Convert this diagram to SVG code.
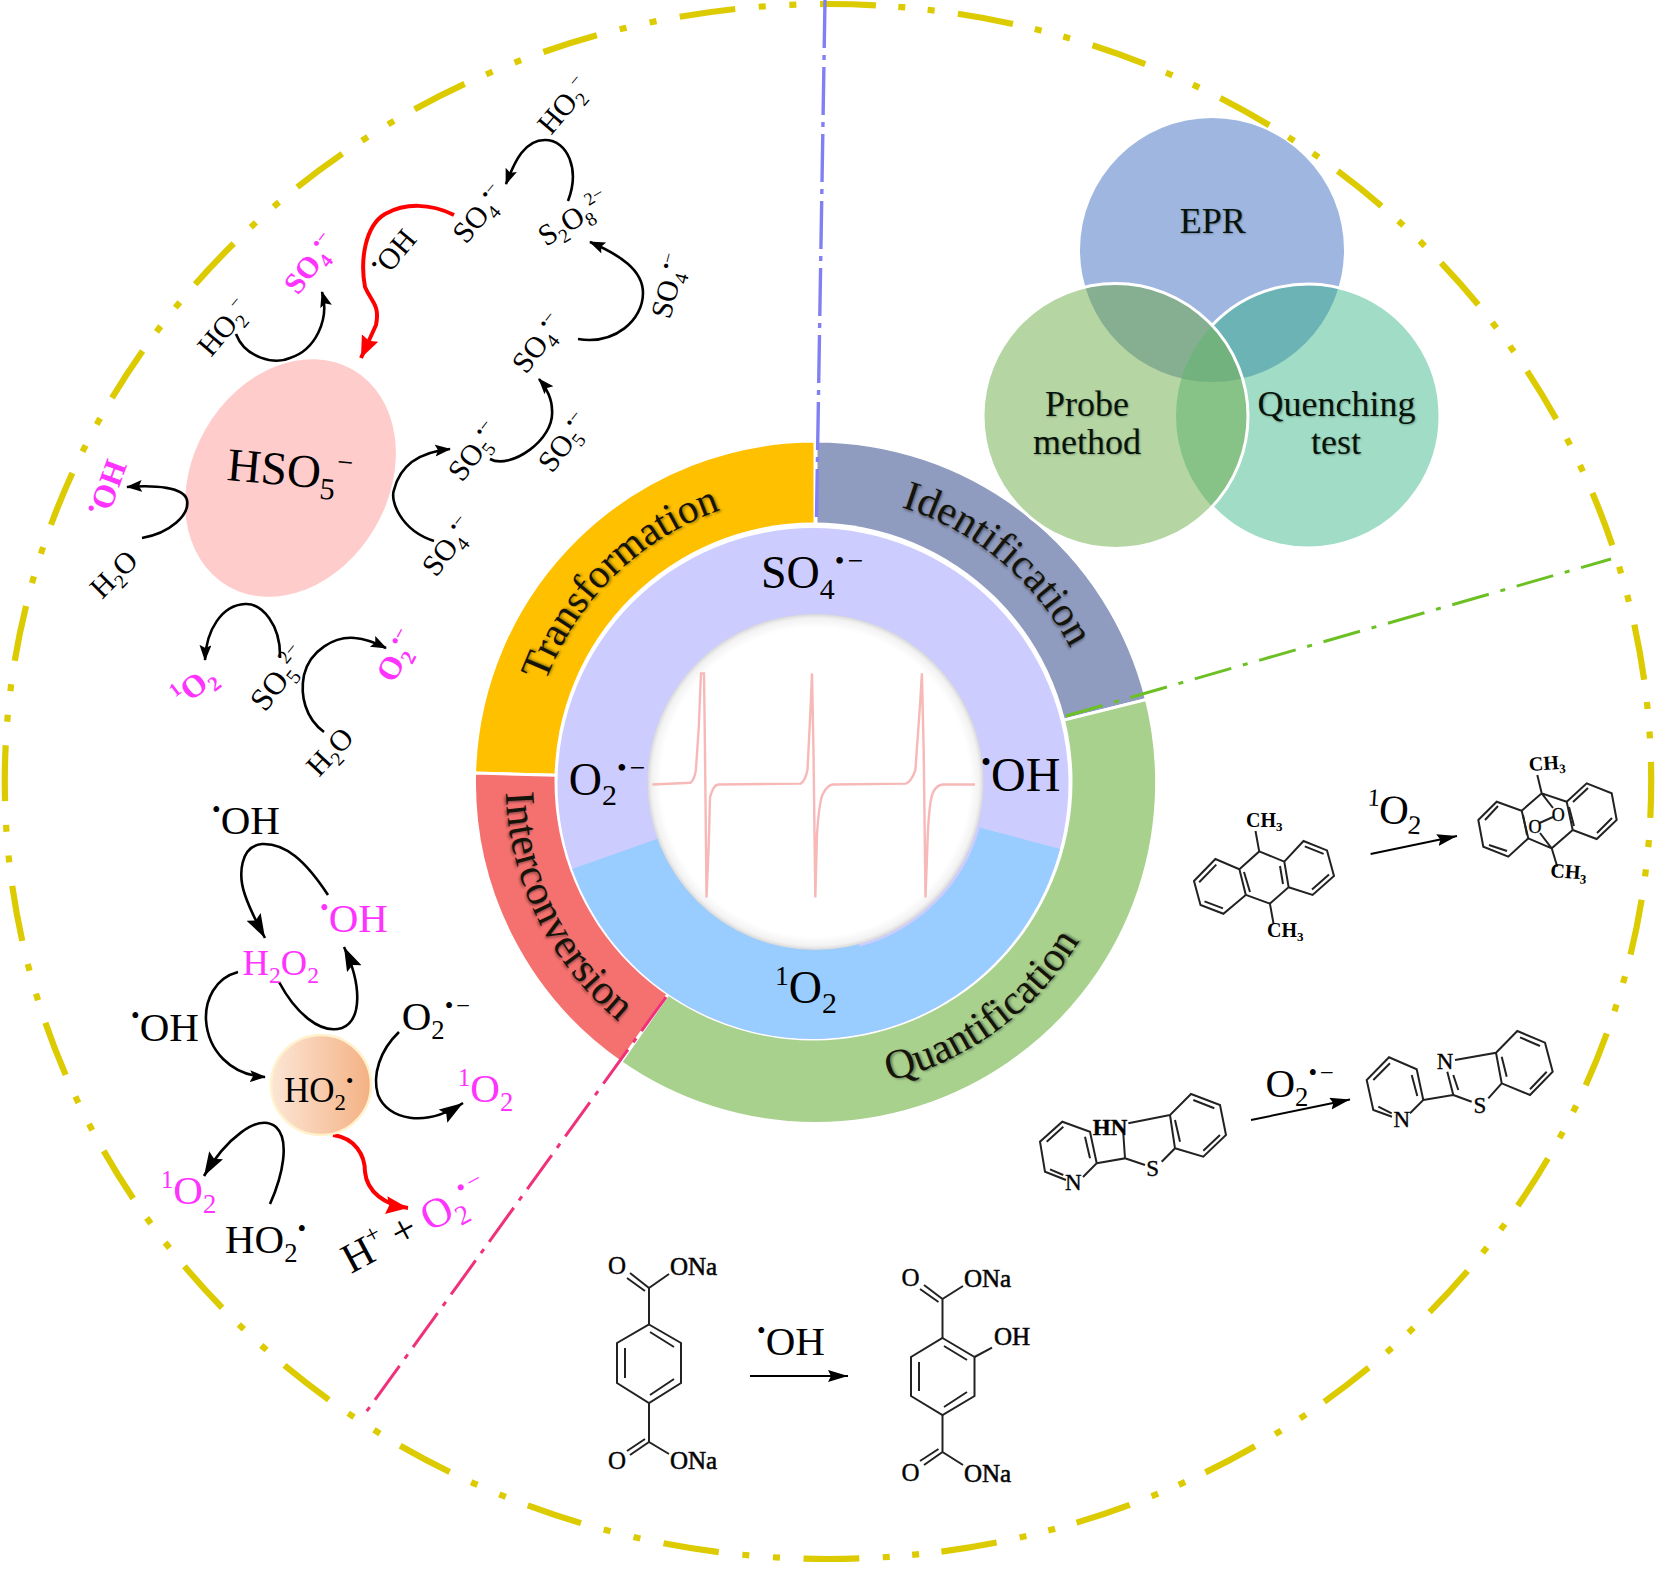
<svg xmlns="http://www.w3.org/2000/svg" width="1677" height="1592" viewBox="0 0 1677 1592">
<style>
text{font-family:"Liberation Serif","Times New Roman",serif;fill:#000}
.sb{font-size:.65em}
.sp{font-size:.6em}
.sl{font-size:.6em;letter-spacing:.12em}
.m{fill:#ff33ff}
.bd{font-weight:700}
.f28{font-size:30px}
.f32{font-size:32px}
.f34{font-size:35px}
.f36{font-size:36.5px}
.f40{font-size:41px}
.f46{font-size:46px}
.rt{font-size:42px;fill:#14140a;text-shadow:1.5px 1.5px 2.5px rgba(0,0,0,.4)}
.vt{font-size:36px;fill:#06140a;text-anchor:middle;text-shadow:1px 1px 2px rgba(0,0,0,.3)}
.c{fill:none;stroke:#000;stroke-width:2.6}
.t{fill:none;stroke:#000;stroke-width:2}
.r{fill:none;stroke:#f00;stroke-width:4}
.b{fill:none;stroke:#222;stroke-width:2}
.a{font-size:25px;stroke:#111;stroke-width:.4}
.n{font-size:23px;stroke:#111;stroke-width:.4}
.am{text-anchor:middle}
.ona{font-size:25px;stroke:#111;stroke-width:.6}
.ch{font-size:20px;font-weight:700}
.w{fill:none;stroke:#fff;stroke-width:3}
.sec{stroke:#fff;stroke-width:3}
.bnd{fill:none;stroke:#dccb00;stroke-width:6.2}
</style>
<defs>
<marker id="hs" markerUnits="userSpaceOnUse" markerWidth="18" markerHeight="14" refX="15" refY="6" orient="auto"><path d="M0,0 L16,6 L0,12 L3,6Z" fill="#000"/></marker>
<marker id="hm" markerUnits="userSpaceOnUse" markerWidth="22" markerHeight="14" refX="20" refY="6" orient="auto"><path d="M0,0 L20,6 L0,12 L3,6Z" fill="#000"/></marker>
<marker id="hl" markerUnits="userSpaceOnUse" markerWidth="26" markerHeight="18" refX="24" refY="8" orient="auto"><path d="M0,0 L24,8 L0,16 L4,8Z" fill="#000"/></marker>
<marker id="hr" markerUnits="userSpaceOnUse" markerWidth="24" markerHeight="20" refX="22" refY="9" orient="auto"><path d="M0,0 L22,9 L0,18 L3,9Z" fill="#f00"/></marker>
<linearGradient id="ho2" x1="0" x2="1" y1="0" y2="0"><stop offset="0" stop-color="#fce6d6"/><stop offset="1" stop-color="#f4b183"/></linearGradient>
<radialGradient id="hole"><stop offset=".92" stop-color="#fff"/><stop offset=".975" stop-color="#f2f2f2"/><stop offset="1" stop-color="#d8d8d8"/></radialGradient>
<path id="pT" d="M545.4,682.1 A288 288 0 0 1 765.5,498.4"/>
<path id="pI" d="M901.1,507 A288 288 0 0 1 1093.7,707.5"/>
<path id="pQ" d="M889.3,1081 A308 308 0 0 0 1119,835"/>
<path id="pC" d="M505.7,792.3 A310 310 0 0 0 709.5,1073.3"/>
<clipPath id="cE"><circle cx="1212" cy="250" r="132"/></clipPath>
<clipPath id="cP"><circle cx="1115.5" cy="416" r="132.5"/></clipPath>
<clipPath id="cQ"><circle cx="1308" cy="416" r="132"/></clipPath>
</defs>
<rect width="1677" height="1592" fill="#fff"/>

<g id="boundary">
<path class="bnd" d="M828,4 A823.5 777.5 0 0 1 828,1559" stroke-dasharray="56 22.4 7 22.5 7 23.5" stroke-dashoffset="8"/>
<path class="bnd" d="M828,4 A823.5 777.5 0 0 0 828,1559" stroke-dasharray="56 23.7 7 23.7 7 23.6" stroke-dashoffset="48"/>
</g>

<g id="ring-transformation">
<path class="sec" fill="#ffc000" d="M815,782 L815,441 A341 341 0 0 0 474.6,773Z"/>
<text class="rt" style="font-size:41px"><textPath href="#pT">Transformation</textPath></text>
</g>
<g id="ring-identification">
<path class="sec" fill="#8f9bbf" d="M816,782 L816,441 A341 341 0 0 1 1146.4,699.5Z"/>
<text class="rt"><textPath href="#pI">Identification</textPath></text>
</g>
<g id="ring-quantification">
<path class="sec" fill="#a9d18e" d="M815.5,782 L1146.4,699.5 A341 341 0 0 1 620.6,1062.2Z"/>
<text class="rt"><textPath href="#pQ">Quantification</textPath></text>
</g>
<g id="ring-interconversion">
<path class="sec" fill="#f4716f" d="M815.5,782 L474.6,773 A341 341 0 0 0 620.6,1062.2Z"/>
<text class="rt"><textPath href="#pC">Interconversion</textPath></text>
</g>

<g id="species-ring">
<circle cx="813.5" cy="781.5" r="259" fill="#fff"/>
<circle cx="813" cy="783.5" r="255.5" fill="#ccccff"/>
<path d="M813,783.5 L1060,849 A255.5 255.5 0 0 1 572.3,869Z" fill="#99ccff"/>
<path d="M978.4,827 A169 169 0 0 1 859.2,945.2" fill="none" stroke="#ccccff" stroke-width="3"/>
<circle cx="815.5" cy="782" r="168" fill="url(#hole)"/>
<path d="M652.3,784.5 L690.4,782.7 C694,780 695,776 695.9,769.8 L698.7,728.5 L701,673.4 L704,673.4 L705,751.4 L706.5,897.5 L708.8,843.3 L710,797.4 C712,790 714,785 718,784.5 L800.6,783.6 C804,782 806,777 807.5,769.8 L810.7,705.5 L812,673.4 L813.5,751.4 L815.3,897.5 L817,834 C819,805 821,796 823.6,792.8 C826,788 829,785 832.8,784.5 L906,783.6 C910,782 913,777 915.4,769.8 L920,705.5 L921.9,673.4 L923.7,751.4 L925.5,897.5 L927.8,834 C929,810 931,797 932.9,792.8 C935,788 938,785 943,784.5 L975,784.5" fill="none" stroke="#f7b8b8" stroke-width="2.4"/>
<text class="f46" x="761" y="588.4">SO<tspan class="sb" dy=".34em">4</tspan><tspan class="sl" dy="-1.03em">•−</tspan></text>
<text class="f46" x="568.7" y="795">O<tspan class="sb" dy=".34em">2</tspan><tspan class="sl" dy="-1.03em">•−</tspan></text>
<text class="f46" style="font-size:48px" x="981" y="791"><tspan class="sp" dy="-.67em">•</tspan><tspan dy=".4em">OH</tspan></text>
<text class="f46" x="775" y="1003"><tspan class="sp" dy="-.67em">1</tspan><tspan dy=".4em">O</tspan><tspan class="sb" dy=".34em">2</tspan></text>
</g>

<g id="venn">
<circle cx="1212" cy="250" r="132" fill="#9fb7e0"/>
<circle cx="1115.5" cy="416" r="132.5" fill="#b5d5a3"/>
<circle cx="1308" cy="416" r="132" fill="#a0dcc6"/>
<g clip-path="url(#cE)"><circle cx="1115.5" cy="416" r="132.5" fill="#85af90"/><circle cx="1308" cy="416" r="132" fill="#6bb3b5"/></g>
<g clip-path="url(#cP)"><circle cx="1308" cy="416" r="132" fill="#87c286"/></g>
<g clip-path="url(#cP)"><g clip-path="url(#cE)"><circle cx="1308" cy="416" r="132" fill="#72b27f"/></g></g>
<circle class="w" cx="1115.5" cy="416" r="132.5"/>
<path class="w" d="M1212,325.4 A132 132 0 0 1 1440,416 A132 132 0 0 1 1212,506.6"/>
<text class="vt" x="1212.7" y="233">EPR</text>
<text class="vt" x="1087" y="416">Probe</text>
<text class="vt" x="1087" y="454">method</text>
<text class="vt" x="1336.5" y="416">Quenching</text>
<text class="vt" x="1336" y="454">test</text>
</g>

<g id="dividers" fill="none">
<path d="M825,0 L816.5,517" stroke="#8080f4" stroke-width="3.4" stroke-dasharray="48 7 5 7"/>
<path d="M1066,716 L1611,559" stroke="#6cc024" stroke-width="3" stroke-dasharray="38 12 5 12"/>
<path d="M666,997 L364,1415" stroke="#f0307a" stroke-width="3" stroke-dasharray="42 9 5 9"/>
</g>

<g id="node-hso5">
<ellipse cx="0" cy="0" rx="98" ry="125" fill="#ffcccc" transform="translate(290.5,478) rotate(30)"/>
<text font-size="47" transform="translate(226,480) rotate(5)">HSO<tspan class="sb" dy=".34em">5</tspan><tspan class="sl" dy="-1.03em">−</tspan></text>
</g>

<g id="connectors">
<path class="c" marker-end="url(#hs)" d="M568,201 C580,170 568,140 545,140 C525,140 515,160 506,184"/>
<path class="c" marker-end="url(#hs)" d="M578,339 C615,345 643,320 643,293 C643,270 620,255 590,242"/>
<path class="c" marker-end="url(#hs)" d="M490,459 C510,470 555,440 552,410 C552,400 547,388 539,379"/>
<path class="c" marker-end="url(#hs)" d="M434,541 C400,530 390,500 394,490 C400,465 420,452 450,449"/>
<path class="c" marker-end="url(#hs)" d="M236,334 C245,358 275,365 290,358 C315,350 330,320 322,292"/>
<path class="c" marker-end="url(#hs)" d="M142,538 C170,533 190,515 187,500 C184,487 155,485 127,487"/>
<path class="c" marker-end="url(#hs)" d="M280,658 C281,625 262,603 245,604 C222,605 206,630 205,660"/>
<path class="c" marker-end="url(#hs)" d="M324,732 C305,718 300,695 304,675 C310,650 335,636 355,638 C368,639 378,644 386,648"/>
<path class="r" marker-end="url(#hr)" d="M454,215 C430,203 405,203 385,214 C365,226 360,260 365,287 C372,303 380,305 376,325 L361,358"/>
<path class="c" marker-end="url(#hl)" d="M328,895 C305,860 285,843 262,844 C240,846 238,875 245,895 C250,910 258,925 265,938"/>
<path class="c" marker-end="url(#hl)" d="M279,982 C295,1012 320,1035 342,1028 C362,1020 362,985 344,947"/>
<path class="c" marker-end="url(#hs)" d="M238,972 C215,978 205,1000 206,1020 C208,1050 230,1075 265,1077"/>
<path class="c" marker-end="url(#hl)" d="M399,1032 C380,1050 372,1075 378,1095 C388,1120 425,1128 463,1103"/>
<path class="c" marker-end="url(#hl)" d="M270,1204 C283,1175 290,1140 276,1127 C258,1112 225,1140 204,1176"/>
<path class="r" marker-end="url(#hr)" d="M333,1135 C355,1138 365,1155 365,1172 C367,1192 385,1205 408,1208"/>
<path class="t" marker-end="url(#hm)" d="M750,1376 L848,1376"/>
<path class="t" marker-end="url(#hm)" d="M1370.6,854 L1457,836"/>
<path class="t" marker-end="url(#hm)" d="M1251,1120 L1350,1099.5"/>
</g>

<g id="labels-hso5">
<text class="f28" transform="translate(551,136) rotate(-50)">HO<tspan class="sb" dy=".34em">2</tspan><tspan class="sp" dy="-1.03em">−</tspan></text>
<text class="f28" transform="translate(466,245) rotate(-50)">SO<tspan class="sb" dy=".34em">4</tspan><tspan class="sp" dy="-1.03em">•−</tspan></text>
<text class="f28" transform="translate(546,247) rotate(-32)">S<tspan class="sb" dy=".34em">2</tspan><tspan dy="-.22em">O</tspan><tspan class="sb" dy=".34em">8</tspan><tspan class="sp" dy="-1.03em">2−</tspan></text>
<text class="f28" transform="translate(670,320) rotate(-75)">SO<tspan class="sb" dy=".34em">4</tspan><tspan class="sp" dy="-1.03em">•−</tspan></text>
<text class="f28" transform="translate(526,375) rotate(-52)">SO<tspan class="sb" dy=".34em">4</tspan><tspan class="sp" dy="-1.03em">•−</tspan></text>
<text class="f28" transform="translate(552,474) rotate(-52)">SO<tspan class="sb" dy=".34em">5</tspan><tspan class="sp" dy="-1.03em">•−</tspan></text>
<text class="f28" transform="translate(462,483) rotate(-52)">SO<tspan class="sb" dy=".34em">5</tspan><tspan class="sp" dy="-1.03em">•−</tspan></text>
<text class="f28" transform="translate(436,578) rotate(-52)">SO<tspan class="sb" dy=".34em">4</tspan><tspan class="sp" dy="-1.03em">•−</tspan></text>
<text class="f28" transform="translate(386,278) rotate(-50)"><tspan class="sp" dy="-.67em">•</tspan><tspan dy=".4em">OH</tspan></text>
<text class="f28 m bd" transform="translate(298,296) rotate(-52)">SO<tspan class="sb" dy=".34em">4</tspan><tspan class="sp" dy="-1.03em">•−</tspan></text>
<text class="f28" transform="translate(211,358) rotate(-50)">HO<tspan class="sb" dy=".34em">2</tspan><tspan class="sp" dy="-1.03em">−</tspan></text>
<text class="f32 m bd" transform="translate(108,518) rotate(-70)"><tspan class="sp" dy="-.67em">•</tspan><tspan dy=".4em">OH</tspan></text>
<text class="f28" transform="translate(102,600) rotate(-45)">H<tspan class="sb" dy=".34em">2</tspan><tspan dy="-.22em">O</tspan></text>
<text class="f32 m bd" transform="translate(183,708) rotate(-38)"><tspan class="sp" dy="-.67em">1</tspan><tspan dy=".4em">O</tspan><tspan class="sb" dy=".34em">2</tspan></text>
<text class="f32" transform="translate(265,713) rotate(-52)">SO<tspan class="sb" dy=".34em">5</tspan><tspan class="sp" dy="-1.03em">2−</tspan></text>
<text class="f32 m bd" transform="translate(394,684) rotate(-62)">O<tspan class="sb" dy=".34em">2</tspan><tspan class="sp" dy="-1.03em">•−</tspan></text>
<text class="f28" transform="translate(319,778) rotate(-47)">H<tspan class="sb" dy=".34em">2</tspan><tspan dy="-.22em">O</tspan></text>
</g>

<g id="node-ho2">
<circle cx="321" cy="1085" r="50" fill="url(#ho2)" stroke="#fff2cc" stroke-width="2.5"/>
<text class="f34" x="284" y="1102">HO<tspan class="sb" dy=".34em">2</tspan><tspan class="sp" dy="-1.03em">•</tspan></text>
</g>

<g id="labels-ho2">
<text class="f40" x="212" y="834.5"><tspan class="sp" dy="-.67em">•</tspan><tspan dy=".4em">OH</tspan></text>
<text class="f40 m" x="320" y="932"><tspan class="sp" dy="-.67em">•</tspan><tspan dy=".4em">OH</tspan></text>
<text class="f36 m" x="242.6" y="975">H<tspan class="sb" dy=".34em">2</tspan><tspan dy="-.22em">O</tspan><tspan class="sb" dy=".34em">2</tspan></text>
<text class="f40" x="131" y="1040.6"><tspan class="sp" dy="-.67em">•</tspan><tspan dy=".4em">OH</tspan></text>
<text class="f40" x="401.7" y="1030.4">O<tspan class="sb" dy=".34em">2</tspan><tspan class="sl" dy="-1.03em">•−</tspan></text>
<text class="f40 m" x="458" y="1102"><tspan class="sp" dy="-.67em">1</tspan><tspan dy=".4em">O</tspan><tspan class="sb" dy=".34em">2</tspan></text>
<text class="f40 m" x="161" y="1204"><tspan class="sp" dy="-.67em">1</tspan><tspan dy=".4em">O</tspan><tspan class="sb" dy=".34em">2</tspan></text>
<text class="f40" x="225" y="1253">HO<tspan class="sb" dy=".34em">2</tspan><tspan class="sp" dy="-1.03em">•</tspan></text>
<text class="f40" style="font-size:42px" transform="translate(351,1274) rotate(-28)">H<tspan class="sp" dy="-.67em">+</tspan><tspan dy=".4em"> + </tspan><tspan class="m">O</tspan><tspan class="sb m" dy=".34em">2</tspan><tspan class="sl m" dy="-1.03em">•−</tspan></text>
</g>

<g id="mol-terephthalate">
<path class="b" d="M649,1324.5 L681,1343 L681,1383 L649,1403 L617,1383 L617,1343Z M625,1348 L625,1378 M650,1332 L674,1347 M674,1379 L650,1395"/>
<path class="b" d="M649,1324.5 L649,1288 L669,1274 M649,1288 L630,1273 M645,1291 L627,1278 M649,1403 L649,1442 L669,1454 M649,1442 L630,1455 M645,1439 L627,1451"/>
<text class="a am" x="617" y="1274">O</text>
<text class="ona" x="670" y="1275">ONa</text>
<text class="a am" x="617" y="1469">O</text>
<text class="ona" x="670" y="1469">ONa</text>
</g>
<g id="label-oh-arrow"><text class="f40" x="757" y="1355"><tspan class="sp" dy="-.67em">•</tspan><tspan dy=".4em">OH</tspan></text></g>
<g id="mol-hydroxyterephthalate">
<path class="b" d="M942.5,1338 L974.5,1357 L974.5,1396 L942.5,1415 L911,1396 L911,1357Z M919,1362 L919,1391 M944,1346 L967,1360 M967,1392 L944,1407"/>
<path class="b" d="M942.5,1338 L942.5,1299 L963,1286 M942.5,1299 L924,1285 M938.5,1302 L920,1289 M974.5,1357 L992,1347.6 M942.5,1415 L942.5,1452 L963,1465 M942.5,1452 L924,1465 M938.5,1449 L920,1461"/>
<text class="a am" x="910.5" y="1286">O</text>
<text class="ona" x="964" y="1287">ONa</text>
<text class="ona" x="994" y="1345">OH</text>
<text class="a am" x="910.5" y="1481">O</text>
<text class="ona" x="964" y="1482">ONa</text>
</g>
<g id="mol-dimethylanthracene">
<path class="b" d="M1194,881 L1215.4,859 L1239.4,869.3 L1245.8,894.9 L1223.4,913.8 L1200.5,905Z M1239.4,869.3 L1259.2,851.4 L1284.3,861.6 L1288.6,887.2 L1269.9,903.6 L1245.8,894.9 M1284.3,861.6 L1303.5,841 L1327,850.4 L1334,876 L1312.6,894.9 L1288.6,887.2 M1259.2,851.4 L1255.5,831 M1269.9,903.6 L1273.6,924"/>
<path class="b" d="M1199.2,882.2 L1216.3,864.6 M1223,908.4 L1204.5,901.4 M1244,872 L1250,892 M1304.8,846.4 L1323.6,853.9 M1329,874.4 L1312,889.4 M1280,866 L1283,884"/>
<text class="ch" x="1246" y="827">CH<tspan class="sb" dy=".34em">3</tspan></text>
<text class="ch" x="1267" y="937">CH<tspan class="sb" dy=".34em">3</tspan></text>
</g>
<g id="label-1o2-arrow"><text class="f40" transform="translate(1366,821.7) rotate(4)"><tspan class="sp" dy="-.67em">1</tspan><tspan dy=".4em">O</tspan><tspan class="sb" dy=".34em">2</tspan></text></g>
<g id="mol-endoperoxide">
<path class="b" d="M1478.3,820 L1496.7,801.7 L1521.7,810.7 L1528.3,838.3 L1508.3,856.7 L1483.3,846.7Z M1566.7,801.7 L1586.7,783.3 L1611.7,793.3 L1616.7,820 L1596.7,839 L1572.7,830Z"/>
<path class="b" d="M1485,820 L1498,806 M1489,845 L1507,851 M1523,815 L1527,835 M1573,802 L1588,788 M1597,833 L1612,818 M1569,807 L1574,826"/>
<path class="b" d="M1521.7,810.7 L1541.7,793.3 L1566.7,801.7 M1528.3,838.3 L1551.7,848.3 L1572.7,830 M1541.7,793.3 L1553,808 M1551.7,848.3 L1540,833 M1539.5,823 L1553,817 M1541.7,793.3 L1537.3,775 M1551.7,848.3 L1557.3,866.7"/>
<text class="n am" x="1535" y="833" style="font-size:18px">O</text>
<text class="n am" x="1558.3" y="821" style="font-size:18px">O</text>
<text class="ch" transform="translate(1529.3,771) rotate(-4)">CH<tspan class="sb" dy=".34em">3</tspan></text>
<text class="ch" transform="translate(1550,877) rotate(4)">CH<tspan class="sb" dy=".34em">3</tspan></text>
</g>
<g id="mol-dihydrobenzothiazole">
<path class="b" d="M1083,1177 L1096.7,1163.3 L1090,1131.7 L1062.3,1121.7 L1040,1141.7 L1045,1171.7 L1066,1180 M1096.7,1163.3 L1125,1158.3 L1123.3,1133.3 M1125,1158.3 L1145,1165 M1161.7,1161.7 L1175,1148.3 L1170,1115 L1191,1094 L1220,1105 L1226,1135 L1203.3,1156.7 L1175,1148.3 M1128.3,1123.3 L1170,1115"/>
<path class="b" d="M1175,1120 L1180,1141.7 M1193.3,1100 L1214.3,1108.3 M1203.3,1150.7 L1220,1135 M1046.7,1141.7 L1063.3,1126.7 M1085,1136.7 L1090,1158.3 M1050,1169.3 L1063.3,1175"/>
<text class="n am bd" x="1110" y="1135">HN</text>
<text class="n am" x="1152.7" y="1176">S</text>
<text class="n am" x="1073.3" y="1190">N</text>
</g>
<g id="label-o2-arrow"><text class="f40" x="1265.5" y="1097">O<tspan class="sb" dy=".34em">2</tspan><tspan class="sl" dy="-1.03em">•−</tspan></text></g>
<g id="mol-benzothiazole">
<path class="b" d="M1410,1113.3 L1423.3,1100 L1416.7,1069.3 L1389,1057.3 L1366.7,1080 L1373.3,1110 L1392,1116.7 M1423.3,1100 L1453.3,1095 L1447.3,1071.7 M1458.3,1090 L1453.3,1075 M1453.3,1095 L1471.7,1101.7 M1455,1060 L1496,1052.7 L1517.3,1031 L1545,1042.7 L1552.7,1071.7 L1530,1095 L1501.7,1083.3 L1496,1052.7 M1488.3,1098.3 L1501.7,1083.3"/>
<path class="b" d="M1501.7,1056.7 L1506.7,1076.7 M1520,1037.3 L1540,1046 M1530,1089.3 L1546.7,1071.7 M1373.3,1080 L1390,1063.3 M1411.7,1075 L1417.3,1096 M1378.3,1106.7 L1391.7,1113.3"/>
<text class="n am" x="1445" y="1069">N</text>
<text class="n am" x="1480" y="1113">S</text>
<text class="n am" x="1401.7" y="1127">N</text>
</g>
</svg>
